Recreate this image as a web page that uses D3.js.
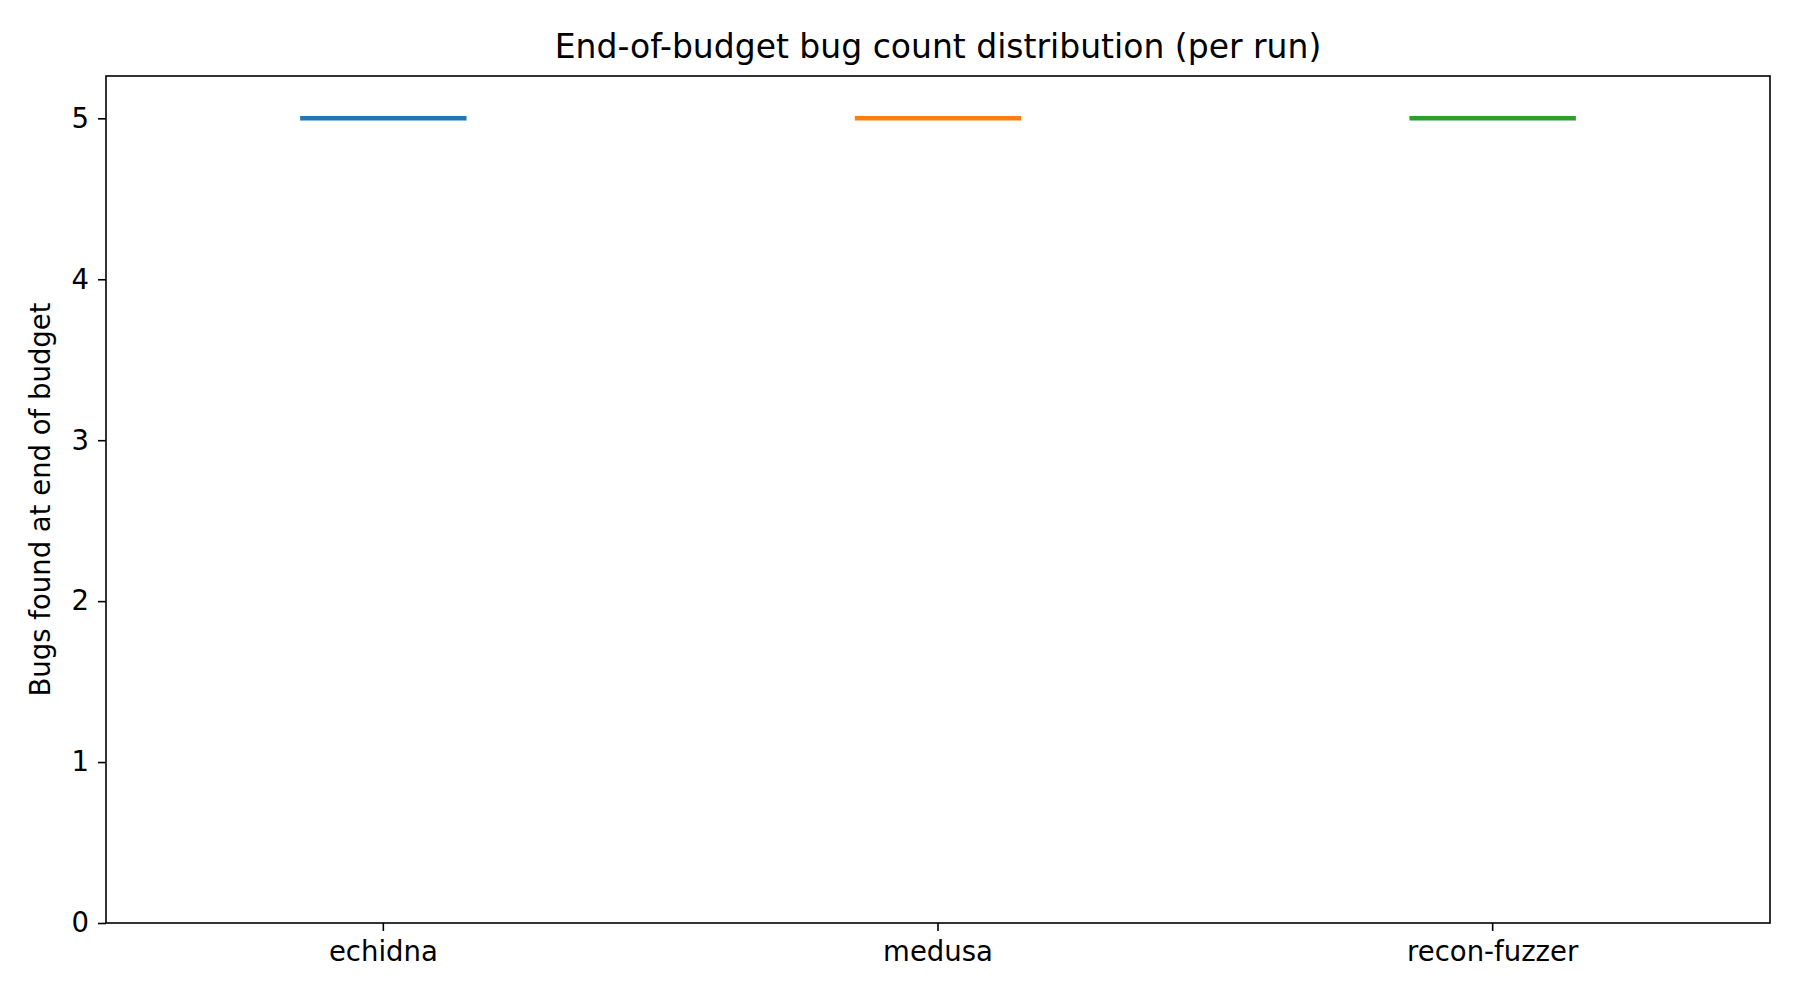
<!DOCTYPE html>
<html><head><meta charset="utf-8">
<script src="https://cdn.jsdelivr.net/npm/d3@7"></script>
<style>body{margin:0;background:#fff}svg{font-family:"DejaVu Sans",sans-serif}</style>
</head><body><svg id="c" width="1800" height="1000"></svg>
<script>
const categories = ["echidna", "medusa", "recon-fuzzer"];
const medians = [5, 5, 5];
const colors = ["#1f77b4", "#ff7f0e", "#2ca02c"];
const yTicks = [0, 1, 2, 3, 4, 5];

const m = {l:106, r:1770, t:76, b:923};
const svg = d3.select("#c");
const x = d3.scaleBand().domain(categories).range([m.l, m.r]);
const y = d3.scaleLinear().domain([0, 5.263]).range([m.b, m.t]);

const gx = svg.append("g").attr("transform", `translate(0,${m.b})`)
  .call(d3.axisBottom(x).tickSizeOuter(0).tickSize(8).tickPadding(10));
const gy = svg.append("g").attr("transform", `translate(${m.l},0)`)
  .call(d3.axisLeft(y).tickValues(yTicks).tickFormat(d3.format("d")).tickSizeOuter(0).tickSize(8).tickPadding(9));
[gx, gy].forEach(g => {
  g.selectAll("text").attr("font-size", 27.5).attr("fill", "#000").attr("font-family", "DejaVu Sans");
  g.selectAll("line").attr("stroke", "#000").attr("stroke-width", 1.6);
  g.select(".domain").remove();
});
svg.append("rect").attr("x", m.l).attr("y", m.t).attr("width", m.r - m.l).attr("height", m.b - m.t)
  .attr("fill", "none").attr("stroke", "#000").attr("stroke-width", 1.6);

svg.selectAll(".med").data(categories).join("line")
  .attr("x1", d => x(d) + x.bandwidth()*0.35)
  .attr("x2", d => x(d) + x.bandwidth()*0.65)
  .attr("y1", (d,i) => y(medians[i])).attr("y2", (d,i) => y(medians[i]))
  .attr("stroke", (d,i) => colors[i]).attr("stroke-width", 4.5);

svg.append("text").attr("x", (m.l + m.r)/2).attr("y", 58).attr("text-anchor", "middle")
  .attr("font-size", 33).text("End-of-budget bug count distribution (per run)");
svg.append("text").attr("transform", `translate(50,${(m.t + m.b)/2}) rotate(-90)`)
  .attr("text-anchor", "middle").attr("font-size", 27.5).text("Bugs found at end of budget");
</script></body></html>
